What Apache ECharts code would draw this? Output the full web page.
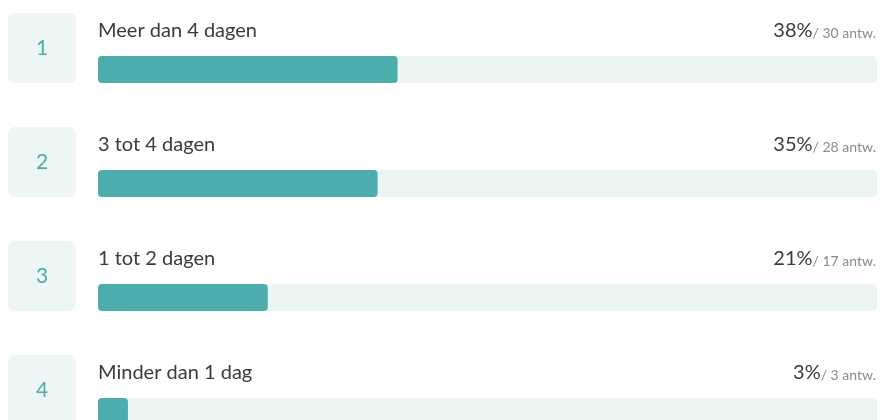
<!DOCTYPE html>
<html>
<head>
    <title>Antwoorden</title>
    <script src="https://cdn.jsdelivr.net/npm/echarts@6.0.0/dist/echarts.min.js"></script>
    <style>
        html, body { margin: 0; padding: 0; background: #fff; }
    </style>
</head>
<body>
<div id="chart" style="width: 880px; height: 420px;"></div>
<script>
    // data
    var categories = ['Meer dan 4 dagen', '3 tot 4 dagen', '1 tot 2 dagen', 'Minder dan 1 dag'];
    var percentages = [38, 35, 21, 3];
    var counts = [30, 28, 17, 3];
    var ranks = ['1', '2', '3', '4'];

    var total = counts.reduce(function (a, b) { return a + b; }, 0);
    var fontFamily = 'Lato, "Noto Sans", sans-serif';

    var chart = echarts.init(document.getElementById('chart'));

    // rank box, label and percentage drawn around each bar
    function renderRow(params, api) {
        var idx = api.value(1);
        var start = api.coord([0, idx]);
        var end = api.coord([total, idx]);
        var cy = start[1];
        return {
            type: 'group',
            children: [
                {
                    type: 'rect',
                    shape: { x: 8, y: cy - 56.5, width: 68, height: 70, r: 7 },
                    style: { fill: '#edf6f5' }
                },
                {
                    type: 'text',
                    style: {
                        x: 42, y: cy - 21, text: ranks[idx],
                        align: 'center', verticalAlign: 'middle',
                        font: '21px ' + fontFamily, fill: '#4aacac'
                    }
                },
                {
                    type: 'text',
                    style: {
                        x: start[0], y: cy - 38.5, text: categories[idx],
                        align: 'left', verticalAlign: 'middle',
                        font: '20px ' + fontFamily, fill: '#3b3b3b'
                    }
                },
                {
                    type: 'text',
                    style: {
                        x: end[0] - 1, y: cy - 36,
                        text: '{p|' + percentages[idx] + '%}{c|/ ' + counts[idx] + ' antw.}',
                        align: 'right', verticalAlign: 'middle',
                        rich: {
                            p: { font: '20px ' + fontFamily, fill: '#3b3b3b', lineHeight: 24, verticalAlign: 'bottom' },
                            c: { font: '14px ' + fontFamily, fill: '#8a8a8a', lineHeight: 24, verticalAlign: 'bottom', padding: [0, 0, 1, 0] }
                        }
                    }
                }
            ]
        };
    }

    var option = {
        animation: false,
        grid: { left: 98, right: 3, top: 12.5, height: 456, outerBoundsMode: 'none', containLabel: false },
        xAxis: { type: 'value', min: 0, max: total, show: false },
        yAxis: { type: 'category', data: categories, inverse: true, show: false },
        series: [
            {
                type: 'bar',
                data: counts,
                barWidth: 27,
                showBackground: true,
                backgroundStyle: { color: '#edf5f4', borderRadius: 4 },
                itemStyle: { color: '#4dadad', borderRadius: 4 }
            },
            {
                type: 'custom',
                renderItem: renderRow,
                data: counts.map(function (c, i) { return [c, i]; }),
                encode: { x: 0, y: 1 },
                silent: true,
                z: 3
            }
        ]
    };

    chart.setOption(option);
</script>
</body>
</html>
